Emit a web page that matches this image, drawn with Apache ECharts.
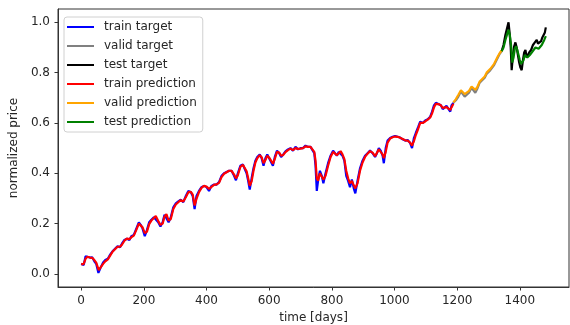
<!DOCTYPE html>
<html>
<head>
<meta charset="utf-8">
<script src="https://cdn.jsdelivr.net/npm/echarts@6/dist/echarts.min.js"></script>
<style>
  html, body { margin: 0; padding: 0; background: #fff; }
  #chart { width: 570px; height: 325px; }
</style>
</head>
<body>
<div id="chart"></div>
<script>
// [day, normalized price] pairs for each split
const trainTarget = [[0,0.04],[8,0.035],[14,0.07],[20,0.07],[28,0.065],[35,0.066],[42,0.05],[48,0.04],[55,0.004],[62,0.025],[70,0.045],[77,0.055],[85,0.06],[93,0.078],[100,0.09],[108,0.1],[116,0.11],[124,0.106],[130,0.12],[138,0.135],[146,0.14],[154,0.135],[160,0.15],[168,0.155],[176,0.18],[184,0.205],[190,0.195],[196,0.18],[203,0.15],[210,0.175],[217,0.205],[224,0.215],[232,0.225],[238,0.23],[246,0.205],[253,0.188],[260,0.205],[266,0.235],[272,0.24],[279,0.205],[286,0.225],[294,0.265],[302,0.28],[310,0.288],[318,0.295],[326,0.285],[334,0.31],[342,0.33],[350,0.325],[356,0.31],[362,0.258],[368,0.31],[376,0.33],[384,0.345],[392,0.35],[400,0.345],[408,0.33],[416,0.35],[424,0.355],[432,0.355],[440,0.365],[448,0.39],[456,0.4],[464,0.405],[472,0.41],[480,0.41],[488,0.39],[494,0.372],[500,0.4],[508,0.43],[516,0.435],[522,0.43],[528,0.4],[533,0.37],[538,0.335],[544,0.38],[550,0.42],[556,0.45],[562,0.465],[570,0.475],[576,0.46],[582,0.43],[588,0.46],[594,0.475],[600,0.46],[606,0.445],[612,0.43],[618,0.465],[625,0.49],[632,0.48],[638,0.465],[645,0.475],[652,0.487],[660,0.495],[668,0.5],[676,0.49],[684,0.505],[692,0.495],[700,0.5],[708,0.5],[716,0.51],[724,0.505],[732,0.505],[738,0.5],[744,0.48],[748,0.43],[752,0.33],[756,0.37],[762,0.41],[768,0.39],[773,0.36],[780,0.4],[788,0.44],[796,0.47],[804,0.49],[810,0.48],[816,0.47],[822,0.485],[828,0.49],[834,0.47],[840,0.45],[846,0.39],[852,0.37],[858,0.345],[864,0.375],[870,0.34],[875,0.32],[882,0.37],[890,0.42],[898,0.45],[906,0.47],[914,0.48],[922,0.49],[930,0.48],[938,0.465],[944,0.48],[950,0.5],[956,0.49],[962,0.47],[966,0.44],[972,0.5],[978,0.53],[986,0.54],[994,0.545],[1002,0.548],[1010,0.545],[1018,0.542],[1026,0.535],[1034,0.53],[1042,0.532],[1050,0.52],[1056,0.5],[1062,0.54],[1068,0.56],[1076,0.585],[1082,0.605],[1090,0.6],[1098,0.61],[1106,0.615],[1114,0.625],[1120,0.645],[1126,0.67],[1132,0.68],[1140,0.675],[1148,0.67],[1154,0.655],[1160,0.65],[1166,0.668],[1172,0.665],[1178,0.645],[1182,0.67],[1188,0.68]];

const validTarget = [[1188,0.68],[1196,0.69],[1204,0.705],[1212,0.725],[1218,0.72],[1224,0.705],[1230,0.7],[1238,0.72],[1246,0.74],[1252,0.73],[1258,0.72],[1264,0.735],[1272,0.76],[1280,0.77],[1288,0.78],[1294,0.795],[1300,0.8],[1306,0.81],[1312,0.815],[1318,0.83],[1324,0.845],[1330,0.86],[1336,0.875],[1342,0.885]];

const testTarget = [[1342,0.885],[1348,0.91],[1354,0.95],[1360,0.98],[1364,1.0],[1368,0.95],[1371,0.9],[1374,0.81],[1378,0.87],[1382,0.905],[1386,0.92],[1390,0.9],[1394,0.87],[1398,0.84],[1402,0.82],[1406,0.81],[1410,0.85],[1414,0.88],[1418,0.89],[1422,0.86],[1426,0.87],[1430,0.88],[1436,0.89],[1442,0.91],[1448,0.92],[1454,0.93],[1458,0.915],[1464,0.91],[1468,0.925],[1472,0.94],[1476,0.95],[1480,0.96],[1483,0.98]];

const trainPrediction = [[0,0.038],[8,0.04],[14,0.06],[20,0.068],[28,0.065],[35,0.064],[42,0.055],[48,0.045],[56,0.015],[62,0.02],[70,0.04],[77,0.05],[85,0.058],[93,0.074],[100,0.088],[108,0.098],[116,0.108],[124,0.108],[130,0.116],[138,0.132],[146,0.14],[154,0.138],[160,0.146],[168,0.152],[176,0.175],[184,0.2],[190,0.198],[196,0.185],[203,0.162],[210,0.168],[217,0.198],[224,0.212],[232,0.222],[238,0.23],[246,0.21],[253,0.195],[260,0.2],[266,0.228],[272,0.238],[279,0.212],[286,0.218],[294,0.258],[302,0.276],[310,0.285],[318,0.293],[326,0.288],[334,0.305],[342,0.325],[350,0.326],[356,0.315],[362,0.272],[368,0.298],[376,0.325],[384,0.342],[392,0.35],[400,0.347],[408,0.338],[416,0.346],[424,0.354],[432,0.356],[440,0.362],[448,0.385],[456,0.398],[464,0.404],[472,0.41],[480,0.41],[488,0.395],[494,0.38],[500,0.392],[508,0.425],[516,0.434],[522,0.432],[528,0.408],[533,0.38],[538,0.35],[544,0.368],[550,0.41],[556,0.443],[562,0.46],[570,0.472],[576,0.464],[582,0.44],[588,0.452],[594,0.47],[600,0.462],[606,0.45],[612,0.438],[618,0.457],[625,0.485],[632,0.482],[638,0.47],[645,0.473],[652,0.484],[660,0.492],[668,0.498],[676,0.492],[684,0.5],[692,0.497],[700,0.498],[708,0.5],[716,0.507],[724,0.505],[732,0.505],[738,0.5],[744,0.485],[748,0.45],[752,0.38],[756,0.37],[762,0.4],[768,0.395],[773,0.375],[780,0.39],[788,0.43],[796,0.465],[804,0.485],[810,0.482],[816,0.472],[822,0.48],[828,0.488],[834,0.475],[840,0.456],[846,0.41],[852,0.38],[858,0.36],[864,0.37],[870,0.352],[875,0.34],[882,0.36],[890,0.41],[898,0.443],[906,0.465],[914,0.478],[922,0.488],[930,0.482],[938,0.468],[944,0.475],[950,0.495],[956,0.49],[962,0.475],[966,0.46],[972,0.485],[978,0.522],[986,0.538],[994,0.543],[1002,0.546],[1010,0.545],[1018,0.541],[1026,0.536],[1034,0.531],[1042,0.53],[1050,0.522],[1056,0.51],[1062,0.528],[1068,0.552],[1076,0.578],[1082,0.6],[1090,0.6],[1098,0.606],[1106,0.613],[1114,0.622],[1120,0.638],[1126,0.662],[1132,0.676],[1140,0.675],[1148,0.67],[1154,0.66],[1160,0.653],[1166,0.663],[1172,0.664],[1178,0.652],[1182,0.662],[1188,0.676]];

const validPrediction = [[1188,0.682],[1196,0.695],[1204,0.712],[1212,0.73],[1218,0.728],[1224,0.715],[1230,0.71],[1238,0.728],[1246,0.745],[1252,0.74],[1258,0.732],[1264,0.742],[1272,0.765],[1280,0.775],[1288,0.785],[1294,0.8],[1300,0.805],[1306,0.815],[1312,0.82],[1318,0.835],[1324,0.85],[1330,0.865],[1336,0.878],[1342,0.888]];

const testPrediction = [[1342,0.885],[1348,0.9],[1354,0.93],[1360,0.955],[1364,0.97],[1368,0.95],[1372,0.91],[1376,0.84],[1380,0.86],[1384,0.895],[1388,0.905],[1392,0.89],[1396,0.87],[1400,0.85],[1404,0.835],[1408,0.83],[1412,0.85],[1416,0.87],[1420,0.875],[1424,0.86],[1428,0.86],[1432,0.87],[1438,0.875],[1444,0.89],[1450,0.9],[1456,0.905],[1460,0.895],[1466,0.9],[1470,0.91],[1474,0.92],[1478,0.93],[1483,0.945]];

const xTicks = [0, 200, 400, 600, 800, 1000, 1200, 1400];
const yTicks = [0.0, 0.2, 0.4, 0.6, 0.8, 1.0];

const FONT = 'DejaVu Sans';
const TEXT = '#262626';
const FONT_SIZE = 12;

function lineSeries(name, data, color) {
  return {
    name: name,
    type: 'line',
    data: data,
    symbol: 'none',
    showSymbol: false,
    animation: false,
    lineStyle: { color: color, width: 2.2 },
    itemStyle: { color: color },
    emphasis: { disabled: true }
  };
}

const chart = echarts.init(document.getElementById('chart'), null, { renderer: 'canvas' });
chart.setOption({
  animation: false,
  backgroundColor: '#fff',
  grid: {
    left: 58, right: 1, top: 9, bottom: 38,
    show: true, borderColor: '#333', borderWidth: 1,
    containLabel: false, outerBoundsMode: 'none'
  },
  legend: {
    orient: 'vertical',
    left: 64, top: 17,
    padding: [4, 6, 4, 3],
    icon: 'path://M0,0H27V2H0Z',
    itemWidth: 27, itemHeight: 12, itemGap: 7,
    backgroundColor: 'rgba(255,255,255,0.8)',
    borderColor: '#d0d0d0', borderWidth: 1, borderRadius: 3,
    textStyle: { fontFamily: FONT, fontSize: FONT_SIZE, color: TEXT, padding: [0, 0, 0, 5] },
    data: ['train target', 'valid target', 'test target', 'train prediction', 'valid prediction', 'test prediction']
  },
  xAxis: {
    type: 'value', min: -74, max: 1557,
    name: 'time [days]', nameLocation: 'middle', nameGap: 24,
    nameTextStyle: { fontFamily: FONT, fontSize: FONT_SIZE, color: TEXT },
    splitLine: { show: false },
    axisLine: { show: true, onZero: false, lineStyle: { color: '#333', width: 1 } },
    axisTick: { show: true, inside: false, length: 3.5, customValues: xTicks, lineStyle: { color: '#333' } },
    axisLabel: { customValues: xTicks, margin: 8, fontFamily: FONT, fontSize: FONT_SIZE, color: TEXT,
      formatter: v => String(v) }
  },
  yAxis: {
    type: 'value', min: -0.052, max: 1.053,
    name: 'normalized price', nameLocation: 'middle', nameGap: 35,
    nameTextStyle: { fontFamily: FONT, fontSize: FONT_SIZE, color: TEXT },
    splitLine: { show: false },
    axisLine: { show: true, onZero: false, lineStyle: { color: '#333', width: 1 } },
    axisTick: { show: true, inside: false, length: 3.5, customValues: yTicks, lineStyle: { color: '#333' } },
    axisLabel: { customValues: yTicks, margin: 8, fontFamily: FONT, fontSize: FONT_SIZE, color: TEXT,
      formatter: v => v.toFixed(1) }
  },
  series: [
    lineSeries('train target', trainTarget, '#0000ff'),
    lineSeries('valid target', validTarget, '#808080'),
    lineSeries('test target', testTarget, '#000000'),
    lineSeries('train prediction', trainPrediction, '#ff0000'),
    lineSeries('valid prediction', validPrediction, '#ffa500'),
    lineSeries('test prediction', testPrediction, '#008000')
  ]
});
</script>
</body>
</html>
